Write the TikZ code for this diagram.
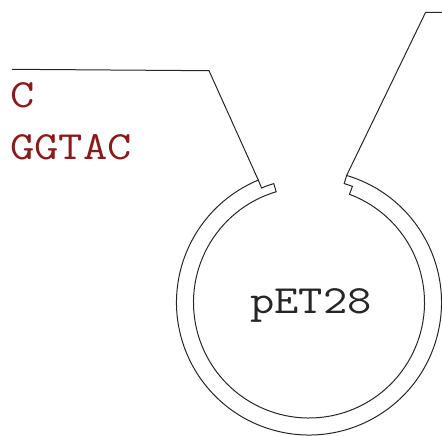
\documentclass[tikz,border=0pt]{standalone}
\usepackage{fontspec}
\usepackage{xcolor}
\usepackage{tikz}
\usetikzlibrary{calc}
\newfontfamily\seqfont{Latin Modern Mono}[FakeStretch=1.18]
\definecolor{seqred}{RGB}{139,26,26}
\newcommand{\outerr}{132.5}
\newcommand{\innerr}{115.5}
\newcommand{\midr}{124}

\begin{document}
\begin{tikzpicture}[x=1pt, y=1pt,
  strand/.style={draw=black!85, line width=1pt, line join=miter},
  seqtext/.style={font=\seqfont\fontsize{40}{40}\selectfont, inner sep=0pt}]

\useasboundingbox (0,0) rectangle (442,-436);

% Plasmid centre
\coordinate (Centre) at (309,-302.5);

% Ends of the opened ring
\coordinate (RingL) at ($(Centre)+(112.5:\outerr)$);
\coordinate (RingR) at ($(Centre)+(73.5:\outerr)$);

% Ring with sticky ends
\draw[strand] (RingR)
  arc[start angle=73.5, end angle=-247.5, radius=\outerr]
  -- ($(Centre)+(112.5:\midr)$)
  arc[start angle=112.5, end angle=106.5, radius=\midr]
  -- ($(Centre)+(106.5:\innerr)$)
  arc[start angle=106.5, end angle=429.5, radius=\innerr]
  -- ($(Centre)+(69.5:\midr)$)
  arc[start angle=69.5, end angle=73.5, radius=\midr]
  -- cycle;

% Plasmid name
\node[seqtext, text=black!85, anchor=base] (Plasmid) at (311,-313.3) {pET28};

% Sequence lines
\foreach \seq/\yy [count=\i] in {C/107.3, GGTAC/159.3}
{
  \node[seqtext, text=seqred, anchor=base west] (Seq-\i) at (10,-\yy) {\seq};
}

% Leader lines
\coordinate (StartL) at (12,-69.3);
\coordinate (KneeL) at (209,-70.7);
\coordinate (KneeR) at (425.5,-12.5);
\coordinate (EndR) at (442,-12.3);
\draw[strand] (StartL) -- (KneeL) -- (RingL);
\draw[strand] (RingR) -- (KneeR) -- (EndR);

\end{tikzpicture}
\end{document}
